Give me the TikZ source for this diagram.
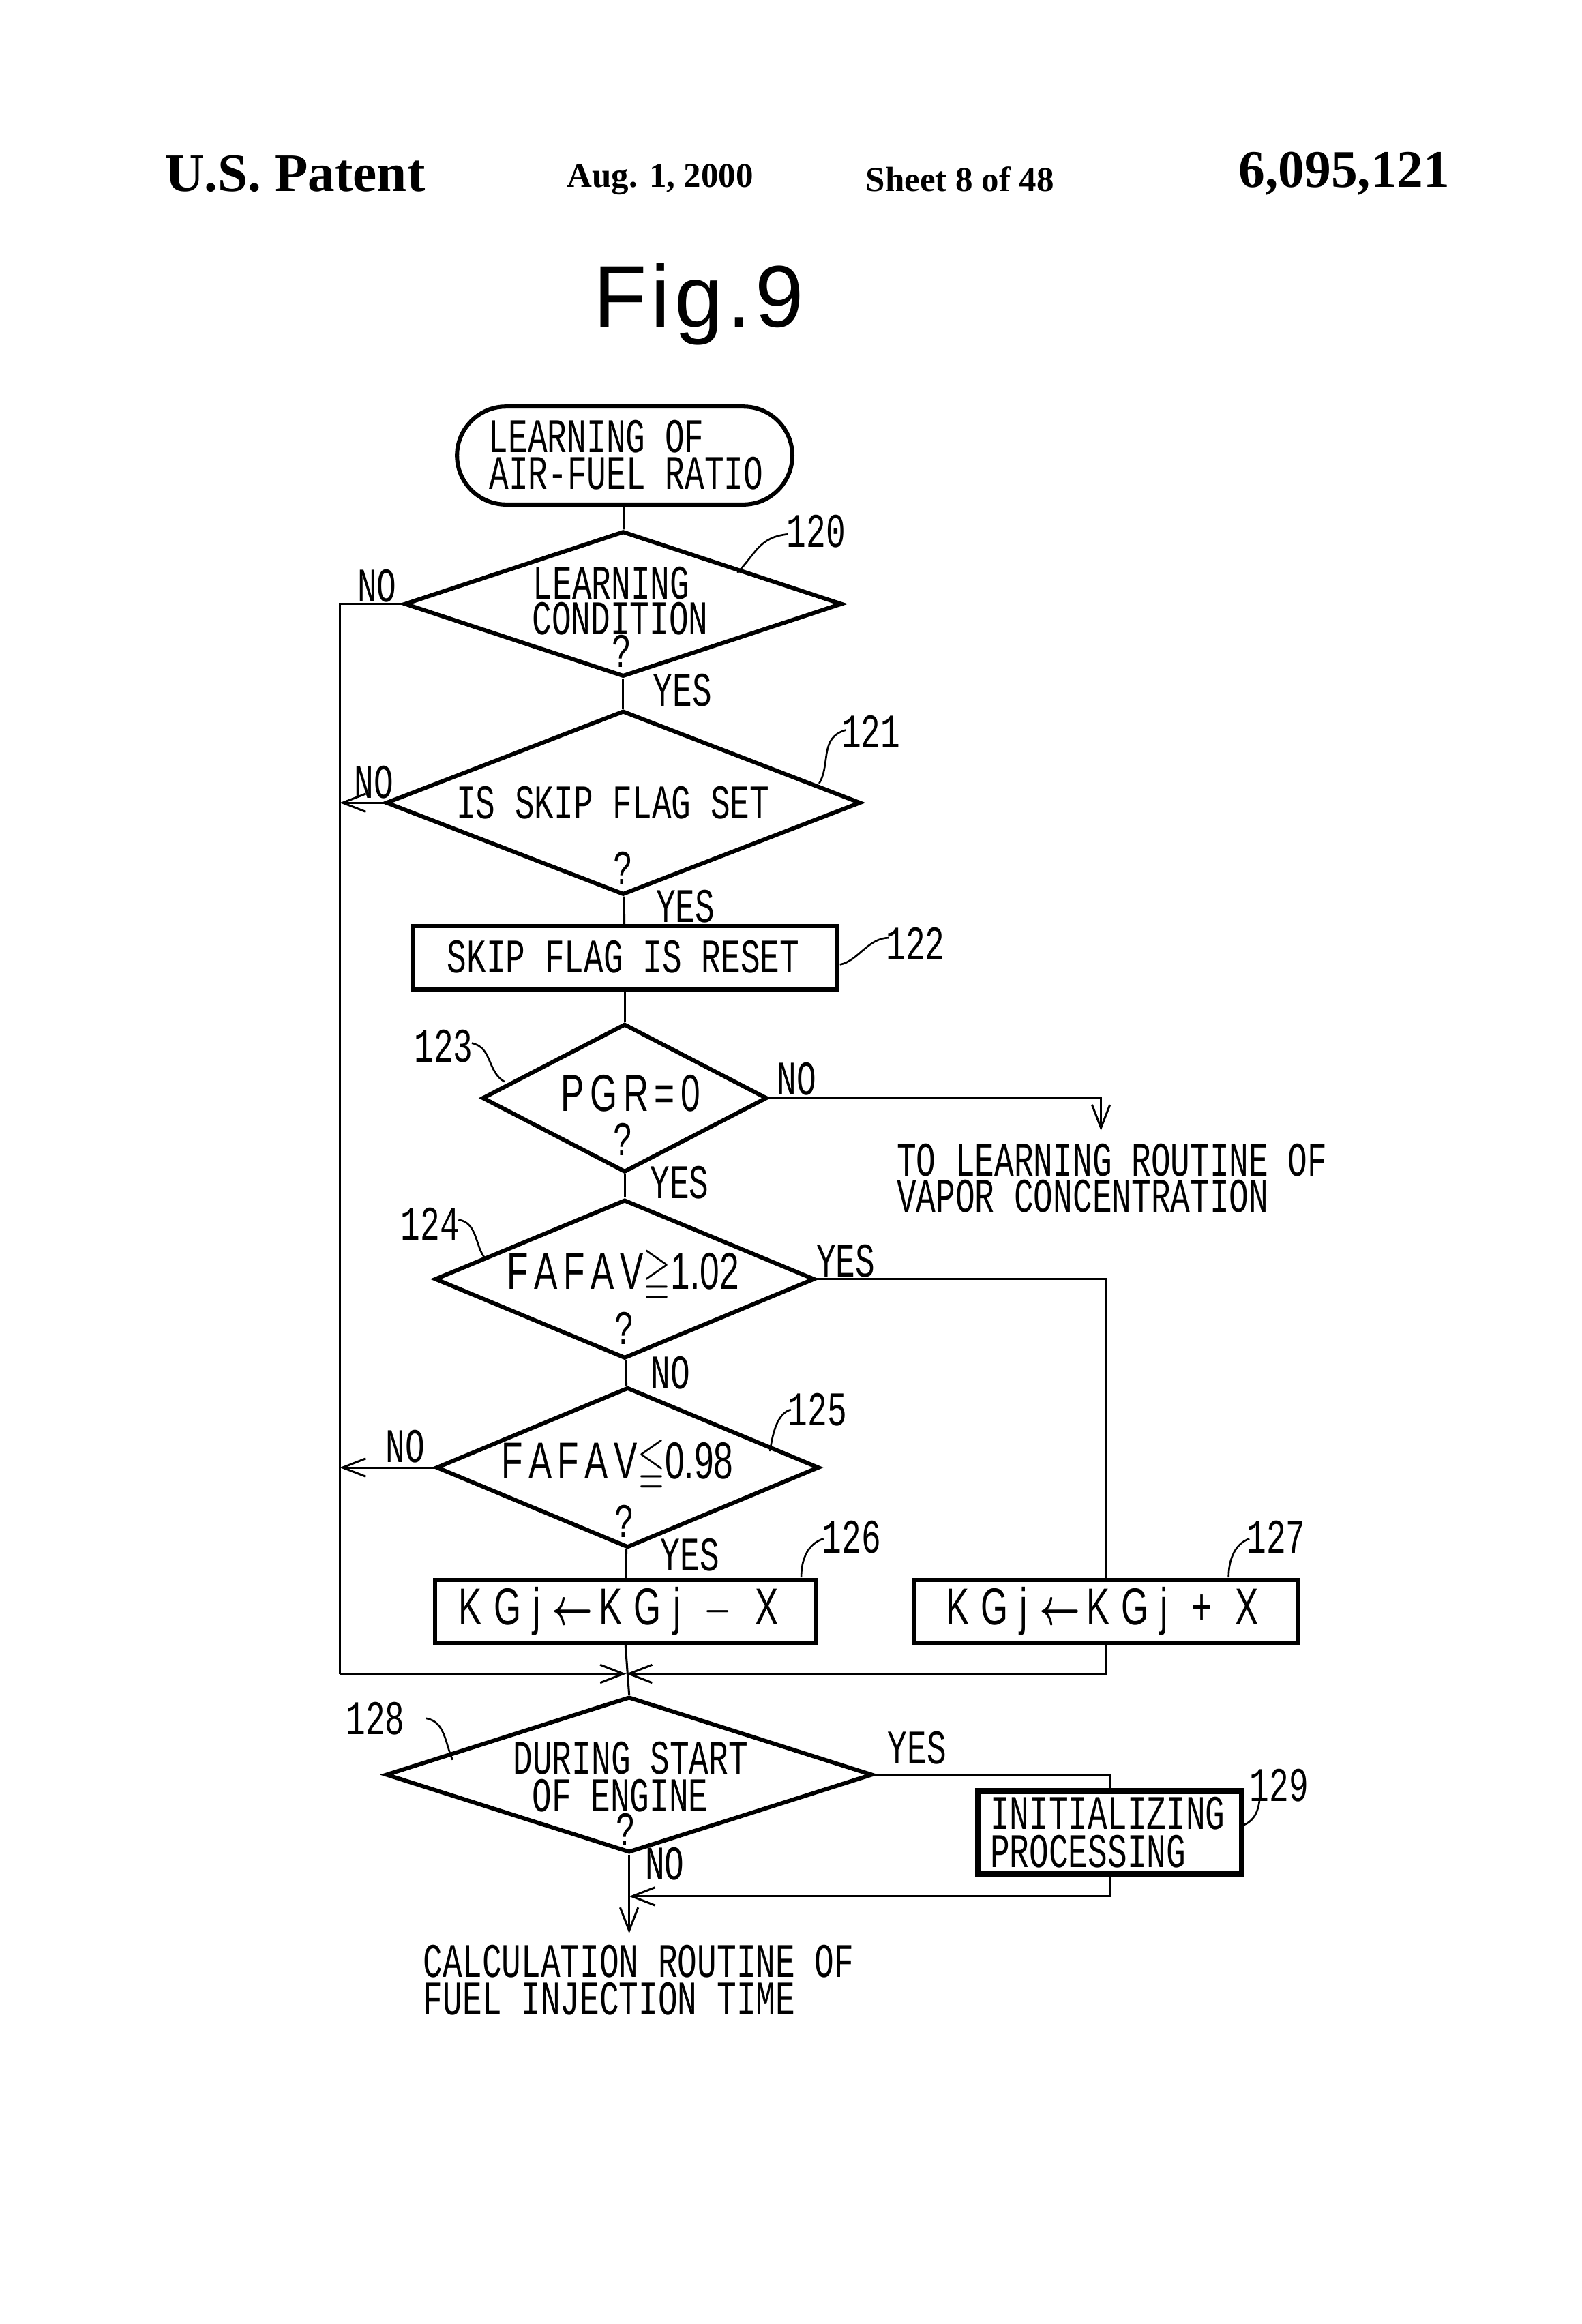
\documentclass[tikz,border=0pt]{standalone}
\usepackage{amssymb,amsmath,bm}
\usepackage{fontspec}
\setmainfont{Liberation Mono}
\newfontfamily\hdr{Liberation Serif}
\newfontfamily\sans{Liberation Sans}
\usetikzlibrary{shapes.geometric,arrows.meta}
\newcommand\tl[1]{\scalebox{0.96}[1.42]{#1}}
\def\u{0.020265cm}
\begin{document}
\begin{tikzpicture}[x=\u,y=-\u,
  >={Straight Barb[length=9pt,width=7pt]},
  dia/.style={diamond,draw,line width=1.6pt,inner sep=0pt},
  box/.style={rectangle,draw,line width=1.6pt,inner sep=0pt},
  txt/.style={font=\fontsize{13.2}{16}\selectfont,inner sep=0pt},
  stxt/.style={font=\sans\fontsize{14.2}{18}\selectfont,inner sep=0pt},
  lab/.style={font=\fontsize{13.2}{16}\selectfont,inner sep=0pt},
  ln/.style={line width=0.8pt},
  lead/.style={line width=0.7pt}]
\useasboundingbox (0,0) rectangle (1065.9,1566.2);
% header
\node[font=\hdr\bfseries\fontsize{21}{24}\selectfont] (h1) at (199,117) {U.S. Patent};
\node[font=\hdr\bfseries\fontsize{13.5}{16}\selectfont] (h2) at (445,121) {Aug. 1, 2000};
\node[font=\hdr\bfseries\fontsize{13.5}{16}\selectfont] (h3) at (647,121) {Sheet 8 of 48};
\node[font=\hdr\bfseries\fontsize{20.5}{24}\selectfont] (h4) at (906,117) {6,095,121};
\node[font=\sans\fontsize{34}{40}\selectfont] (fig) at (471,205) {F\hspace{1.5pt}i\hspace{1.5pt}g\hspace{1.5pt}.\hspace{1.5pt}9};
% start
\node[rectangle,rounded corners={33*\u},draw,line width=1.6pt,minimum width={226*\u},minimum height={66*\u}] (st) at (421,307) {};
\node[txt] (st1) at (402,294) {\tl{LEARNING OF}};
\node[txt] (st2) at (422,319) {\tl{AIR-FUEL RATIO}};
% 120
\node[dia,minimum width={295*\u},minimum height={98*\u}] (d120) at (420,407) {};
\node[txt] (t120a) at (412,393) {\tl{LEARNING}};
\node[txt] (t120b) at (418,417) {\tl{CONDITION}};
\node[txt] (t120c) at (419,439) {\tl{?}};
\node[lab] (n120) at (550,358) {\tl{120}};
\draw[lead] (497,386) .. controls (510,372) and (512,362) .. (531,360);
% 121
\node[dia,minimum width={320*\u},minimum height={124*\u}] (d121) at (420,541) {};
\node[txt] (t121) at (413,541) {\tl{IS SKIP FLAG SET}};
\node[txt] (q121) at (420,585) {\tl{?}};
\node[lab] (n121) at (587,493) {\tl{121}};
\draw[lead] (552,528) .. controls (560,515) and (552,497) .. (570,492);
% 122
\node[box,minimum width={286*\u},minimum height={43*\u}] (b122) at (421,645.5) {};
\node[txt] (t122) at (420,645) {\tl{SKIP FLAG IS RESET}};
\node[lab] (n122) at (617,636) {\tl{122}};
\draw[lead] (566,650) .. controls (578,648) and (585,632) .. (599,632);
% 123
\node[dia,minimum width={192*\u},minimum height={100*\u}] (d123) at (421,740) {};
\node[stxt] (t123) at (425,737) {\tl{P\,G\,R\,=\,0}};
\node[txt] (q123) at (420,768) {\tl{?}};
\node[lab] (n123) at (299,705) {\tl{123}};
\draw[lead] (318,703) .. controls (332,706) and (328,722) .. (340,729);
% 124
\node[dia,minimum width={256*\u},minimum height={107*\u}] (d124) at (421,862) {};
\node[stxt] (t124) at (420,860) {\tl{F\,A\,F\,A\,V$\geqq$1.02}};
\node[txt] (q124) at (421,895) {\tl{?}};
\node[lab] (n124) at (290,825) {\tl{124}};
\draw[lead] (309,822) .. controls (322,824) and (320,840) .. (327,848);
% 125
\node[dia,minimum width={258*\u},minimum height={108*\u}] (d125) at (423,989) {};
\node[stxt] (t125) at (416,988) {\tl{F\,A\,F\,A\,V$\leqq$0.98}};
\node[txt] (q125) at (421,1025) {\tl{?}};
\node[lab] (n125) at (551,950) {\tl{125}};
\draw[lead] (519,978) .. controls (521,963) and (525,952) .. (533,950);
% 126 / 127
\node[box,minimum width={257*\u},minimum height={42*\u}] (b126) at (421.5,1086) {};
\node[stxt] (t126) at (417,1086) {\tl{K\,\,G\,\,j\,\,$\bm{\leftarrow}$\,K\,\,G\,\,j\,\,\,\,$-$\,\,\,\,X}};
\node[lab] (n126) at (574,1036) {\tl{126}};
\draw[lead] (540,1063) .. controls (540,1050) and (545,1040) .. (555,1037);
\node[box,minimum width={259*\u},minimum height={42*\u}] (b127) at (745.5,1086) {};
\node[stxt] (t127) at (743,1086) {\tl{K\,\,G\,\,j\,\,$\bm{\leftarrow}$\,K\,\,G\,\,j\,\,\,\,+\,\,\,\,X}};
\node[lab] (n127) at (860,1036) {\tl{127}};
\draw[lead] (828,1063) .. controls (828,1050) and (833,1040) .. (842,1037);
% 128
\node[dia,minimum width={328*\u},minimum height={105*\u}] (d128) at (424,1196) {};
\node[txt] (t128a) at (425,1185) {\tl{DURING START}};
\node[txt] (t128b) at (418,1210) {\tl{OF ENGINE}};
\node[txt] (t128c) at (422,1233) {\tl{?}};
\node[lab] (n128) at (253,1158) {\tl{128}};
\draw[lead] (287,1158) .. controls (300,1160) and (300,1175) .. (305,1186);
% 129
\node[box,line width=2.2pt,minimum width={178*\u},minimum height={56*\u}] (b129) at (748,1235) {};
\node[txt,anchor=west] (t129a) at (667,1222) {\tl{INITIALIZING}};
\node[txt,anchor=west] (t129b) at (667,1248) {\tl{PROCESSING}};
\node[lab] (n129) at (862,1203) {\tl{129}};
\draw[lead] (838,1230) .. controls (850,1225) and (848,1212) .. (850,1208);
% texts
\node[txt,anchor=west] (tv1) at (604,782) {\tl{TO LEARNING ROUTINE OF}};
\node[txt,anchor=west] (tv2) at (604,806) {\tl{VAPOR CONCENTRATION}};
\node[txt,anchor=west] (te1) at (285,1322) {\tl{CALCULATION ROUTINE OF}};
\node[txt,anchor=west] (te2) at (285,1347) {\tl{FUEL INJECTION TIME}};
% labels
\node[lab] (l1) at (254,395) {\tl{NO}};
\node[lab] (l2) at (460,465) {\tl{YES}};
\node[lab] (l3) at (252,527) {\tl{NO}};
\node[lab] (l4) at (462,611) {\tl{YES}};
\node[lab] (l5) at (537,727) {\tl{NO}};
\node[lab] (l6) at (458,797) {\tl{YES}};
\node[lab] (l7) at (570,850) {\tl{YES}};
\node[lab] (l8) at (452,925) {\tl{NO}};
\node[lab] (l9) at (273,975) {\tl{NO}};
\node[lab] (l10) at (465,1048) {\tl{YES}};
\node[lab] (l11) at (618,1178) {\tl{YES}};
\node[lab] (l12) at (448,1256) {\tl{NO}};
% coordinates
\coordinate (lx) at (229,1128);
\coordinate (j) at (422,1128);
\coordinate (vap) at (742,762);
\coordinate (out) at (424,1303);
\coordinate (ret) at (424,1278);
% connectors
\draw[ln] (st) -- (d120);
\draw[ln] (d120) -- (d121);
\draw[ln] (d121) -- (b122);
\draw[ln] (b122) -- (d123);
\draw[ln] (d123) -- (d124);
\draw[ln] (d124) -- (d125);
\draw[ln] (d125) -- (b126);
\draw[ln] (d120.west) -| (lx);
\draw[ln,->] (d121.west) -- (d121.west -| lx);
\draw[ln,->] (d125.west) -- (d125.west -| lx);
\draw[ln,->] (d123.east) -| (vap);
\draw[ln] (d124.east) -| (b127.north);
\draw[ln,->] (lx) -- (j);
\draw[ln,->] (b127.south) |- (j);
\draw[ln] (b126.south) -- (d128.north);
\draw[ln] (d128.east) -| (b129.north);
\draw[ln,->] (b129.south) |- (ret);
\draw[ln,->] (d128.south) -- (out);
\end{tikzpicture}
\end{document}
